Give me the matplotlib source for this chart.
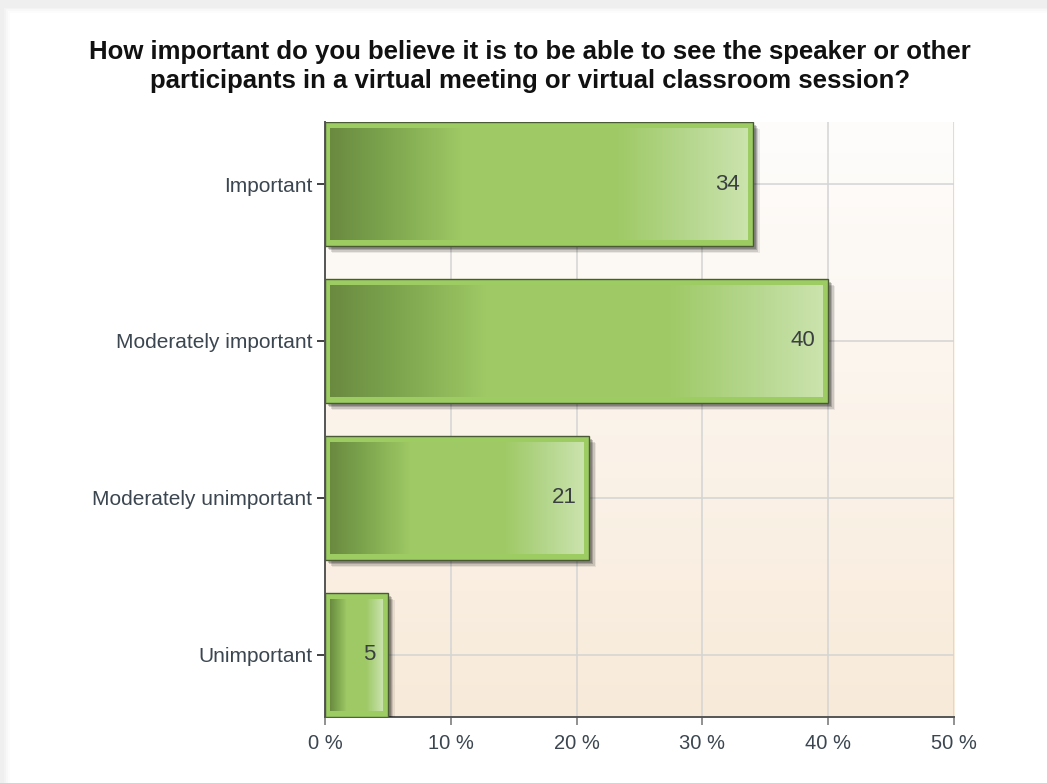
import matplotlib
matplotlib.use("Agg")
import matplotlib.pyplot as plt
import matplotlib.patheffects as pe
from matplotlib.patches import Rectangle
from matplotlib.colors import LinearSegmentedColormap
import numpy as np

plt.rcParams['font.family'] = ['Liberation Sans', 'DejaVu Sans']

# survey answers, top to bottom
categories = ["Important", "Moderately important", "Moderately unimportant", "Unimportant"]
percent = [34, 40, 21, 5]
xticks = [0, 10, 20, 30, 40, 50]
title = ("How important do you believe it is to be able to see the speaker or other\n"
         "participants in a virtual meeting or virtual classroom session?")

fig = plt.figure(figsize=(10.47, 7.83), dpi=100)
fig.patch.set_facecolor("#efefef")

# white card with a soft edge
for i, a in enumerate([0.25, 0.45, 0.7]):
    fig.patches.append(Rectangle((0.004 + 0.002 * i, 0), 1, 0.990 - 0.002 * i,
                                 transform=fig.transFigure, facecolor="white",
                                 edgecolor="none", alpha=a, zorder=-5))
fig.patches.append(Rectangle((0.010, 0), 1, 0.984, transform=fig.transFigure,
                             facecolor="white", edgecolor="none", zorder=-5))

fig.text(0.506, 0.915, title, ha="center", va="center", fontsize=18.5,
         fontweight="bold", color="#111111", linespacing=1.3)

ax = fig.add_axes([0.3104, 0.0843, 0.6008, 0.7599])
ax.set_xlim(0, 50)
ax.set_ylim(len(categories) - 1 + 0.395, -0.395)

# plot background: white at top to pale peach at bottom
bg = LinearSegmentedColormap.from_list("bg", ["#fefdfc", "#f8ead9"])
ax.imshow(np.linspace(0, 1, 256).reshape(-1, 1), cmap=bg, aspect="auto",
          extent=[0, 1, 0, 1], transform=ax.transAxes, zorder=0, origin="upper")

ax.set_xticks(xticks)
ax.set_xticklabels([f"{t} %" for t in xticks])
ax.set_yticks(range(len(categories)))
ax.set_yticklabels(categories)
ax.grid(True, color="#d4d4d4", linewidth=1.1, zorder=1)
ax.set_axisbelow(True)

for s in ["top", "right"]:
    ax.spines[s].set_visible(False)
for s in ["left", "bottom"]:
    ax.spines[s].set_color("#555555")
    ax.spines[s].set_linewidth(1.4)
ax.tick_params(axis="y", length=6, width=1.3, color="#333333", labelsize=15,
               labelcolor="#3b4650", pad=3)
ax.tick_params(axis="x", length=6, width=1.3, color="#888888", labelsize=14.5,
               labelcolor="#3b4650", pad=6)

grad = LinearSegmentedColormap.from_list(
    "bar", [(0.0, "#6a8a40"), (0.12, "#7aa24c"), (0.32, "#9fca65"),
            (0.68, "#9ec964"), (0.85, "#b4d68c"), (1.0, "#cbe3ad")])
h = 0.79
bars = ax.barh(range(len(categories)), percent, height=h, color="#9ccc62",
               edgecolor="#4a5a35", linewidth=1.0, zorder=3)
# soft drop shadow, built from a few offset layers
shadow = [pe.SimplePatchShadow(offset=(o, -o), shadow_rgbFace="#000000", alpha=al)
          for o, al in [(5, 0.07), (4, 0.12), (3, 0.18), (2, 0.2)]]
for b in bars:
    b.set_path_effects(shadow + [pe.Normal()])

for i, v in enumerate(percent):
    dx = 0.42
    dy = 0.04
    inner = Rectangle((dx, i - h / 2 + dy), v - 2 * dx, h - 2 * dy,
                      transform=ax.transData, facecolor="none", edgecolor="none")
    ax.add_patch(inner)
    im = ax.imshow(np.linspace(0, 1, 256).reshape(1, -1), cmap=grad, aspect="auto",
                   extent=[dx, v - dx, i + h / 2 - dy, i - h / 2 + dy], zorder=4,
                   interpolation="bilinear")
    im.set_clip_path(inner)
    ax.text(v - 1.0, i, f"{v}", ha="right", va="center", fontsize=16,
            color="#3a4040", zorder=5)

ax.set_xlim(0, 50)
ax.set_ylim(len(categories) - 1 + 0.395, -0.395)

fig.savefig("out.png", dpi=100)
